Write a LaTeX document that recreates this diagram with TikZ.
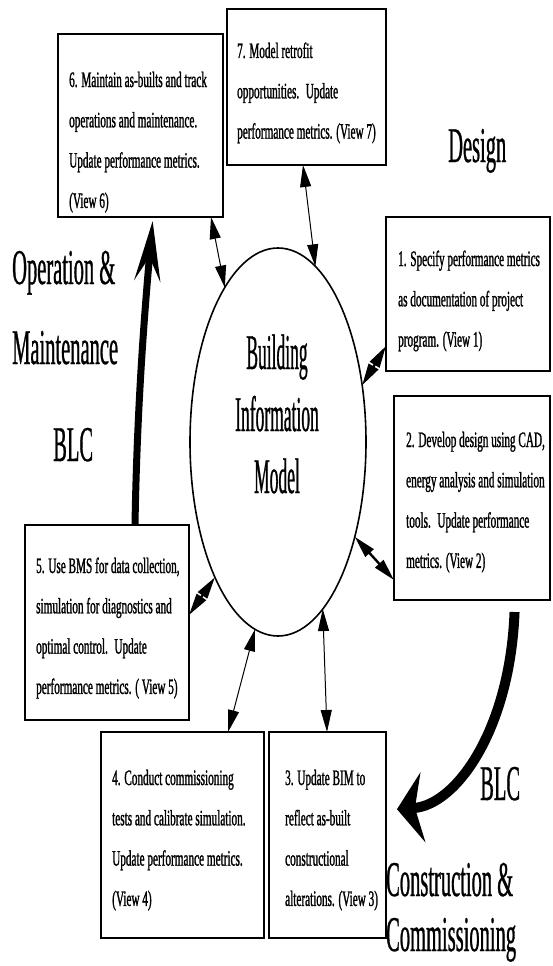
\documentclass[tikz,border=0pt]{standalone}
\usepackage{fontspec}
\usetikzlibrary{arrows.meta,shapes.geometric,calc}
\newfontfamily\boxfont[FakeStretch=0.51,FakeBold=1.1]{Liberation Serif}
\newfontfamily\bigfont[FakeStretch=0.41,FakeBold=0.6]{Liberation Serif}
\newfontfamily\midfont[FakeStretch=0.35,FakeBold=0.6]{Liberation Serif}
\begin{document}
\begin{tikzpicture}[x=1pt,y=-1pt,
  box/.style={draw, line width=1.7pt, inner sep=0pt, outer sep=0pt},
  txt/.style={anchor=base west, inner sep=0pt, font=\boxfont\fontsize{22}{40.3}\selectfont},
  big/.style={anchor=base west, inner sep=0pt, font=\bigfont\fontsize{50}{50}\selectfont},
  dbl/.style={{Triangle[length=22pt,width=11pt]}-{Triangle[length=22pt,width=11pt]}, line width=1pt},
  dblw/.style={dbl, line width=2.4pt},
  bimshape/.style={ellipse, draw, line width=1.6pt, minimum width=176pt, minimum height=388pt, inner sep=0pt, outer sep=0pt}
]
\useasboundingbox (0,0) rectangle (552,966);
\fill[white] (0,0) rectangle (552,966);

% boxes
\node[box, minimum width=165pt, minimum height=183pt] (b6) at (140.5,125.5) {};
\node[box, minimum width=159pt, minimum height=156pt] (b7) at (306.5,87) {};
\node[box, minimum width=164pt, minimum height=154pt] (b1) at (468,294) {};
\node[box, minimum width=156pt, minimum height=204pt] (b2) at (472,498) {};
\node[box, minimum width=164pt, minimum height=195pt] (b5) at (107,622.5) {};
\node[box, minimum width=163pt, minimum height=206pt] (b4) at (182.5,835) {};
\node[box, minimum width=117pt, minimum height=206pt] (b3) at (327.5,835) {};
\foreach \b in {b1,b2,b3,b4,b5,b6,b7}
  \draw[line width=2.8pt] (\b.north west) -- (\b.north east) (\b.south west) -- (\b.south east);

% central model
\node[bimshape] (bim) at (278,442) {};
\node[anchor=base, inner sep=0pt, font=\midfont\fontsize{50}{62}\selectfont] (bimtxt) at (277,369)
  {\parbox[t]{150pt}{\centering Building\\Information\\Model}};

% box texts
\node[txt] (t6) at (69,87) {\parbox[t]{200pt}{6. Maintain as-builts and track\\operations and maintenance.\\Update performance metrics.\\(View 6)}};
\node[txt] (t7) at (237,58) {\parbox[t]{200pt}{7. Model retrofit\\opportunities.~ Update\\performance metrics. (View 7)}};
\node[txt] (t1) at (398,266) {\parbox[t]{200pt}{1. Specify performance metrics\\as documentation of project\\program. (View 1)}};
\node[txt] (t2) at (406,447) {\parbox[t]{200pt}{2. Develop design using CAD,\\energy analysis and simulation\\tools.~ Update performance\\metrics. (View 2)}};
\node[txt] (t5) at (36,573) {\parbox[t]{200pt}{5. Use BMS for data collection,\\simulation for diagnostics and\\optimal control.~ Update\\performance metrics. ( View 5)}};
\node[txt] (t4) at (112,785) {\parbox[t]{200pt}{4. Conduct commissioning\\tests and calibrate simulation.\\Update performance metrics.\\(View 4)}};
\node[txt] (t3) at (285,785) {\parbox[t]{200pt}{3. Update BIM to\\reflect as-built\\constructional\\alterations. (View 3)}};

% big labels
\node[big] (design) at (448,162) {Design};
\node[big] (oper) at (12,284) {Operation \&};
\node[big] (maint) at (12,364) {Maintenance};
\node[big] (blcl) at (53,461) {BLC};
\node[big] (blcr) at (480,800) {BLC};
\node[big] (constr) at (386,896) {Construction \&};
\node[big] (comm) at (386,951) {Commissioning};

% double arrows
\draw[dbl] ([xshift=153pt]b6.south west) -- (bim.109.9);
\draw[dbl] ([xshift=76pt]b7.south west) -- (bim.78.1);
\draw[dblw] ([yshift=25pt]b1.south west) -- (bim.34.8);
\draw[dblw] ([yshift=20pt]b2.south west) -- (bim.-51.8);
\draw[dblw] ([yshift=-90pt]b5.north east) -- (bim.-115.2);
\draw[dbl] ([xshift=127pt]b4.north west) -- (bim.-97.75);
\draw[dbl] ([xshift=58pt]b3.north west) -- (bim.-75.7);

% BLC cycle arrows
\draw[line width=7pt, shorten >=4pt, -{Stealth[length=60pt,width=26pt,inset=24pt]}]
  ([xshift=110pt]b5.north west) .. controls +(2,-120) and +(-8,90) .. ([xshift=95pt]b6.south west);
\draw[line width=10pt, shorten <=12pt, shorten >=11pt, -{Stealth[length=26pt,width=70pt,inset=8pt]}]
  ([xshift=121pt]b2.south west) .. controls +(-5,130) and +(70,-5) .. ([yshift=25pt]b3.east);
\end{tikzpicture}
\end{document}
